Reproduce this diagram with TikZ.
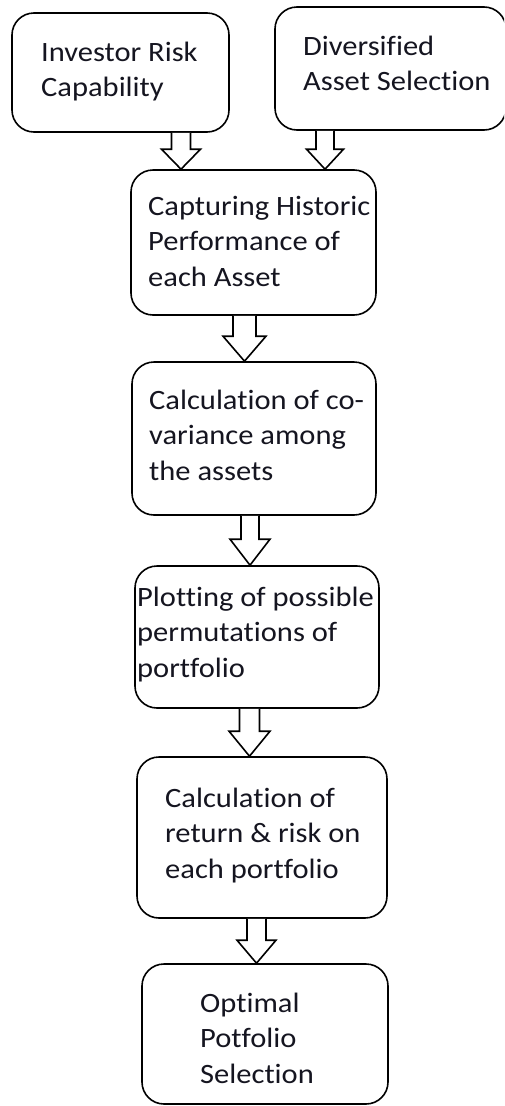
\documentclass[tikz,border=0pt]{standalone}
\usepackage{fontspec}
\setmainfont{Carlito}[FakeStretch=1.09,RawFeature={-liga;-clig}]
\usetikzlibrary{calc}
\definecolor{txtcol}{HTML}{151520}
\tikzset{
  box/.style={draw=black, line width=1.6pt, rounded corners=22pt, inner sep=0pt, fill=white},
  txt/.style={inner sep=0pt, anchor=base west, text=txtcol, font=\fontsize{28}{35.5}\selectfont},
  arr/.style={draw=black, line width=1.6pt, fill=white, line join=miter}
}
% x, from node, to node, shaft half, head half, head length
\newcommand\blkarr[6]{%
  \draw[arr] (#1-#4,0 |- #2.south) -- ($(#1-#4,0 |- #3.north)+(0,-#6)$)
    -- ($(#1-#5,0 |- #3.north)+(0,-#6)$) -- (#1,0 |- #3.north)
    -- ($(#1+#5,0 |- #3.north)+(0,-#6)$) -- ($(#1+#4,0 |- #3.north)+(0,-#6)$)
    -- (#1+#4,0 |- #2.south);}
\newcommand\tlines[1]{\vtop{\baselineskip=35.5pt #1}}
\begin{document}
\begin{tikzpicture}[x=1pt,y=-1pt]
\useasboundingbox (0,0) rectangle (504,1106);
\begin{scope}
\clip (0,0) rectangle (504,1106);
\node[box, minimum width=217pt, minimum height=119pt] (b1) at (120.5,72.5) {};
\node[box, minimum width=231pt, minimum height=123pt] (b2) at (390.5,68.5) {};
\node[box, minimum width=245pt, minimum height=145pt] (b3) at (253.5,242.5) {};
\node[box, minimum width=244pt, minimum height=153pt] (b4) at (254,438.5) {};
\node[box, minimum width=244pt, minimum height=142pt] (b5) at (257,637) {};
\node[box, minimum width=250pt, minimum height=161pt] (b6) at (262,837.5) {};
\node[box, minimum width=246pt, minimum height=140pt] (b7) at (265,1034) {};
\end{scope}
\blkarr{181}{b1}{b3}{9.5}{19.5}{20}
\blkarr{325}{b2}{b3}{9}{18.5}{20}
\blkarr{244.5}{b3}{b4}{11.5}{21.5}{25}
\blkarr{250}{b4}{b5}{9}{20}{26}
\blkarr{249.5}{b5}{b6}{10}{20.5}{25}
\blkarr{256.5}{b6}{b7}{9.5}{19.5}{23}
\node[txt] (t1) at (41,61) {\tlines{\hbox{Investor Risk}\hbox{Capability}}};
\node[txt] (t2) at (303,55) {\tlines{\hbox{Diversified}\hbox{Asset Selection}}};
\node[txt] (t3) at (148,215) {\tlines{\hbox{Capturing Historic}\hbox{Performance of}\hbox{each Asset}}};
\node[txt] (t4) at (149,409) {\tlines{\hbox{Calculation of co-}\hbox{variance among}\hbox{the assets}}};
\node[txt] (t5) at (137,606) {\tlines{\hbox{Plotting of possible}\hbox{permutations of}\hbox{portfolio}}};
\node[txt] (t6) at (165,807) {\tlines{\hbox{Calculation of}\hbox{return \& risk on}\hbox{each portfolio}}};
\node[txt] (t7) at (200,1012) {\tlines{\hbox{Optimal}\hbox{Potfolio}\hbox{Selection}}};
\end{tikzpicture}
\end{document}
